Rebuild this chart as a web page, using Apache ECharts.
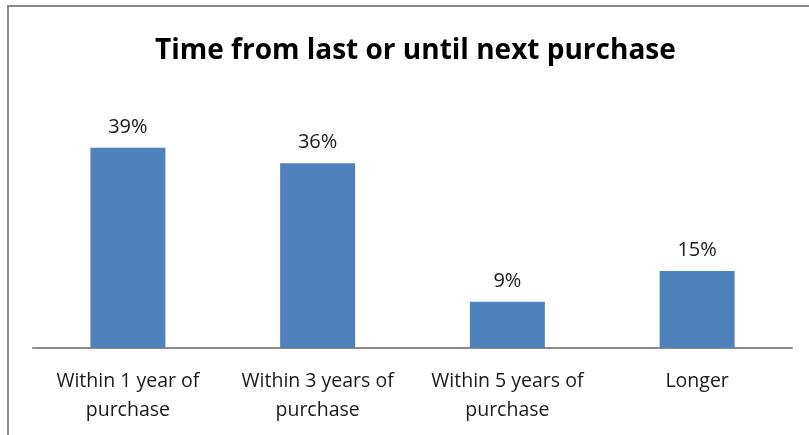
<!DOCTYPE html>
<html>
<head>
<meta charset="utf-8">
<script src="https://cdn.jsdelivr.net/npm/echarts@6/dist/echarts.min.js"></script>
<style>
  html, body { margin: 0; padding: 0; background: #fff; }
  #chart { width: 809px; height: 435px; }
</style>
</head>
<body>
<div id="chart"></div>
<script>
const categories = ['Within 1 year of\npurchase', 'Within 3 years of\npurchase', 'Within 5 years of\npurchase', 'Longer'];
const shares = [39, 36, 9, 15];
const chartTitle = 'Time from last or until next purchase';

const chart = echarts.init(document.getElementById('chart'), null, { renderer: 'canvas' });
const font = 'Open Sans';

chart.setOption({
  animation: false,
  backgroundColor: '#ffffff',
  title: {
    text: chartTitle,
    left: 150,
    top: 27,
    textStyle: { fontFamily: font, fontWeight: 'bold', fontSize: 28, lineHeight: 38, color: '#000' }
  },
  graphic: [{
    type: 'rect',
    shape: { x: 8, y: 6, width: 820, height: 450 },
    style: { fill: 'none', stroke: '#8a8a8a', lineWidth: 2 },
    silent: true
  }],
  grid: { left: 33, right: 17, top: 117, bottom: 87 },
  xAxis: {
    type: 'category',
    data: categories,
    axisTick: { show: false },
    axisLine: { lineStyle: { color: '#8c8c8c', width: 2 } },
    axisLabel: {
      interval: 0,
      margin: 19,
      fontFamily: font,
      fontSize: 19.5,
      lineHeight: 29,
      color: '#1a1a1a'
    }
  },
  yAxis: {
    type: 'value',
    min: 0,
    max: 45,
    show: false,
    splitLine: { show: false }
  },
  series: [{
    type: 'bar',
    data: shares,
    barWidth: 75,
    itemStyle: { color: '#4f81bd' },
    label: {
      show: true,
      position: 'top',
      distance: 11,
      lineHeight: 20,
      formatter: '{c}%',
      fontFamily: font,
      fontSize: 20,
      color: '#1a1a1a'
    }
  }]
});
</script>
</body>
</html>
